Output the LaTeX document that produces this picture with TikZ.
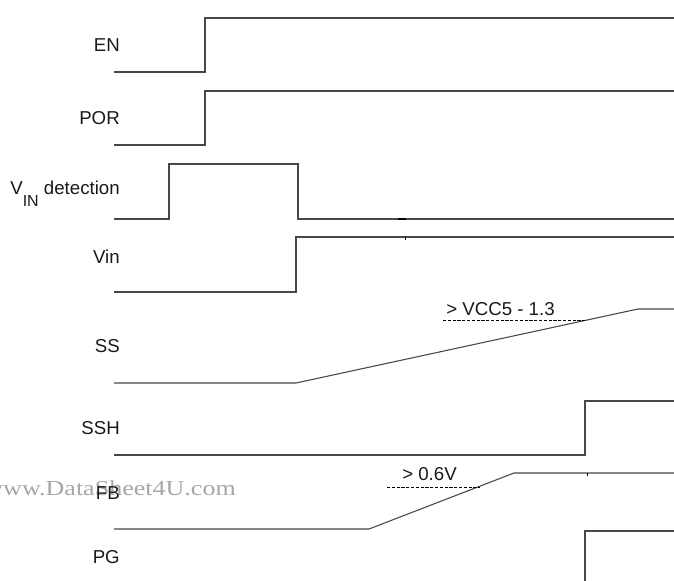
\documentclass[tikz,border=0pt]{standalone}
\usepackage{fontspec}
\setmainfont{Liberation Sans}
\newfontfamily\wmfont{Liberation Serif}
\begin{document}
\begin{tikzpicture}[x=0.75pt,y=-0.75pt,
  sig/.style={draw=black!72, line width=0.8pt, line join=miter},
  thr/.style={draw=black, line width=0.7pt, dash pattern=on 2.4pt off 1.2pt},
  lbl/.style={anchor=base east, inner sep=0pt, font=\fontsize{14}{16}\selectfont, text=black!90},
  ann/.style={anchor=base west, inner sep=0pt, font=\fontsize{14}{16}\selectfont, text=black!90},
  wm/.style={anchor=base east, inner sep=0pt, text=black!35, font=\wmfont\fontsize{16}{18}\selectfont}]
\useasboundingbox (0,0) rectangle (674,581);
\clip (0,0) rectangle (674,581);
% watermark
\node[wm] (wmark) at (236,495) {\scalebox{1.22}[1]{www.DataSheet4U.com}};
% labels
\node[lbl] (lEN)  at (120,52)  {EN};
\node[lbl] (lPOR) at (120,125) {POR};
\node[lbl] (lVD)  at (120,195) {V\raisebox{-9pt}{\fontsize{12}{14}\selectfont IN} detection};
\node[lbl] (lVin) at (120,263) {Vin};
\node[lbl] (lSS)  at (120,352.5) {SS};
\node[lbl] (lSSH) at (120,434) {SSH};
\node[lbl] (lFB)  at (120,499) {FB};
\node[lbl] (lPG)  at (120,563) {PG};
% signals
\draw[sig] (114,72) -- (205,72) -- (205,18) -- (680,18);
\draw[sig] (114,145) -- (205,145) -- (205,91) -- (680,91);
\draw[sig] (114,219) -- (169,219) -- (169,164) -- (298,164) -- (298,219) -- (680,219);
\draw[sig] (114,292) -- (296,292) -- (296,237) -- (680,237);
\draw[sig] (114,383) -- (296,383) -- (638,309) -- (680,309);
\draw[sig] (114,455) -- (585,455) -- (585,401) -- (680,401);
\draw[sig] (114,529) -- (369,529) -- (514,473) -- (680,473);
\draw[sig] (585,600) -- (585,531) -- (680,531);
% small marks
\draw[black, line width=1.4pt] (398,219) -- (406,219);
\draw[black, line width=0.6pt] (405,237) -- (405,240);
\draw[black, line width=0.6pt] (587,473) -- (587,476);
% thresholds
\draw[thr] (443,320.5) -- (587,320.5);
\node[ann] (tSS) at (446,315) {> VCC5 - 1.3};
\draw[thr] (387,487) -- (480,487);
\node[ann] (tFB) at (402,480) {> 0.6V};
\end{tikzpicture}
\end{document}
